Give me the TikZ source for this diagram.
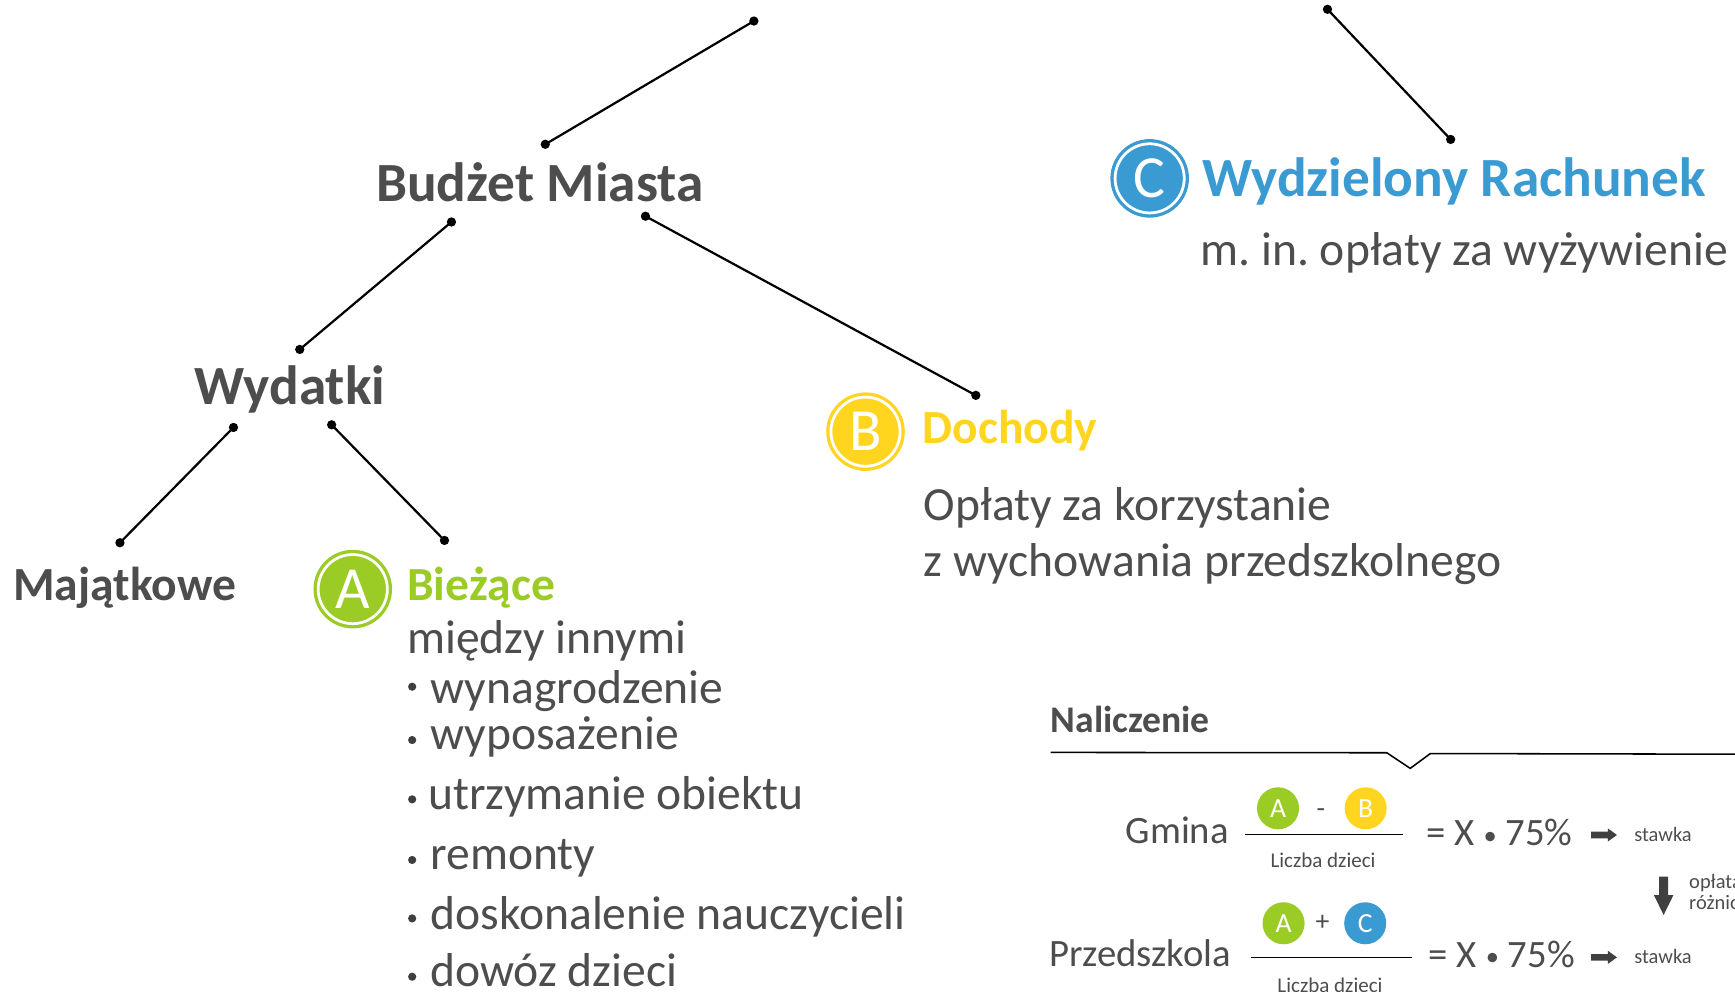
\documentclass[tikz,border=0pt]{standalone}
\usepackage{fontspec}
\setmainfont{Carlito}
\usetikzlibrary{arrows.meta}
\definecolor{txtgray}{HTML}{4D4D4D}
\definecolor{cgreen}{HTML}{9BCB25}
\definecolor{cyellow}{HTML}{FFD51F}
\definecolor{cblue}{HTML}{3A9AD2}
\definecolor{arrgray}{HTML}{404040}
\newcommand\fsHuge{\fontsize{50}{60}\selectfont}
\newcommand\fsLarge{\fontsize{43}{52}\selectfont}
\newcommand\fsMid{\fontsize{35}{42}\selectfont}
\newcommand\fsHead{\fontsize{34}{41}\selectfont}
\newcommand\fsSmall{\fontsize{19}{23}\selectfont}
\newcommand\fsTiny{\fontsize{18.5}{22}\selectfont}
\newcommand\fsBadge{\fontsize{54}{60}\selectfont}
\newcommand\fsMini{\fontsize{25}{30}\selectfont}
\newcommand\smalldot{\raisebox{1.5pt}{\fontsize{24}{24}\selectfont\textbullet}}
\frenchspacing
\begin{document}
\begin{tikzpicture}[x=1pt,y=-1pt,
  txt/.style={anchor=base west,inner sep=0pt,outer sep=0pt,text=txtgray},
  conn/.style={draw=black,line width=2pt},
  dotmark/.style={fill=black},
  badge/.style={circle,inner sep=0pt,minimum size=62.5pt,fill=#1,draw=#1,
    double=white,double distance=2.5pt,line width=3pt,text=white,font=\fsBadge},
  minibadge/.style={circle,inner sep=0pt,minimum size=38pt,fill=#1,text=white,font=\fsMini},
  fracline/.style={draw=black,line width=1.4pt},
  fatarrow/.style={fill=arrgray},
  bul/.style={fill=txtgray!80!black}]
\path[use as bounding box] (0,0) rectangle (1568,896);
\clip (0,0) rectangle (1568,896);

% ---- tree text ----
\node[txt,font=\bfseries\fsHuge] (budzet) at (340,182.3) {Budżet Miasta};
\node[txt,font=\bfseries\fsHuge] (wydatki) at (175.8,365.6) {Wydatki};
\node[txt,font=\bfseries\fsLarge] (majatkowe) at (12,543) {Majątkowe};
\node[badge=cgreen] (bA) at (318.8,532.4) {A};
\node[txt,font=\bfseries\fsLarge,text=cgreen] (biezace) at (368,543) {Bieżące};
\node[txt,font=\fsLarge] (miedzy) at (368,590.4) {między innymi};
\node[txt,font=\fsLarge] (i1) at (389,635.6) {wynagrodzenie};
\node[txt,font=\fsLarge] (i2) at (389,677.8) {wyposażenie};
\node[txt,font=\fsLarge] (i3) at (387,731.4) {utrzymanie obiektu};
\node[txt,font=\fsLarge] (i4) at (389,786) {remonty};
\node[txt,font=\fsLarge] (i5) at (389,839.9) {doskonalenie nauczycieli};
\node[txt,font=\fsLarge] (i6) at (389,891.7) {dowóz dzieci};
\foreach \yy in {620.6,668.8,722.4,777.2,830,882.7}
  \fill[bul] (372.5,\yy) circle (3.7pt);

\node[badge=cyellow] (bB) at (782.2,390.1) {B};
\node[txt,font=\bfseries\fsLarge,text=cyellow] (dochody) at (834,400.7) {Dochody};
\node[txt,font=\fsLarge] (oplaty1) at (835,470) {Opłaty za korzystanie};
\node[txt,font=\fsLarge] (oplaty2) at (835,521.2) {z wychowania przedszkolnego};

\node[badge=cblue] (bC) at (1039,161.2) {C};
\node[txt,font=\bfseries\fsHuge,text=cblue] (wydz) at (1086.5,177.7) {Wydzielony Rachunek};
\node[txt,font=\fsLarge] (minn) at (1085,239.5) {m. in. opłaty za wyżywienie};

% ---- connectors ----
\coordinate (t1) at (681.3,19.0);
\coordinate (t2) at (492.8,130.4);
\coordinate (b1) at (408,200.6);
\coordinate (w1) at (270.9,315.8);
\coordinate (b2) at (583.3,195.4);
\coordinate (d1) at (881.9,357.3);
\coordinate (t3) at (1199.7,8.4);
\coordinate (c1) at (1311,126);
\coordinate (w2) at (211,386.3);
\coordinate (m1) at (108.4,490.5);
\coordinate (w3) at (299.7,383.9);
\coordinate (a1) at (401.7,488.4);
\foreach \p/\q in {t1/t2,b1/w1,b2/d1,t3/c1,w2/m1,w3/a1}{
  \draw[conn] (\p) -- (\q);
  \fill[dotmark] (\p) circle (4.2pt);
  \fill[dotmark] (\q) circle (4.2pt);
}

% ---- Naliczenie ----
\node[txt,font=\bfseries\fsHead] (nalicz) at (949.5,662.2) {Naliczenie};
\coordinate (nl0) at (949.5,680);
\coordinate (nl1) at (1253.3,680.3);
\coordinate (nl2) at (1274.5,694.4);
\coordinate (nl3) at (1292.7,681);
\coordinate (nl4) at (1570,681.6);
\draw[line width=1.4pt] (nl0) -- (nl1) -- (nl2) -- (nl3) -- (nl4);

% Gmina
\node[txt,font=\fsMid] (gmina) at (1017.3,762.2) {Gmina};
\coordinate (f1a) at (1124.9,754);
\coordinate (f1b) at (1268.2,754);
\draw[fracline] (f1a) -- (f1b);
\node[minibadge=cgreen] (gA) at (1155,730.5) {A};
\node[text=txtgray,font=\fsMini,inner sep=0pt] (gminus) at (1193.6,734.5) {-};
\node[minibadge=cyellow] (gB) at (1234.2,730.5) {B};
\node[txt,font=\fsSmall] (gl) at (1148.2,784.2) {Liczba dzieci};
\node[txt,font=\fsMid] (geq) at (1289.3,764.3) {= X \smalldot\ 75\%};
\fill[fatarrow] (1438,751.6) -- (1453,751.6) -- (1453,748.6) -- (1461.3,754.6)
  -- (1453,760.6) -- (1453,757.6) -- (1438,757.6) -- cycle;
\node[txt,font=\fsTiny] (gst) at (1477,760.7) {stawka};

% down arrow
\fill[fatarrow] (1499.5,792.3) -- (1507.5,792.3) -- (1507.5,809) -- (1512.3,809)
  -- (1503.5,826.9) -- (1494.7,809) -- (1499.5,809) -- cycle;
\node[txt,font=\fsTiny] (op1) at (1526.6,802.8) {opłata};
\node[txt,font=\fsTiny] (op2) at (1526.6,822.4) {różnica};

% Przedszkola
\node[txt,font=\fsMid] (przed) at (948.2,873.6) {Przedszkola};
\coordinate (f2a) at (1130.4,865.2);
\coordinate (f2b) at (1275.7,865.2);
\draw[fracline] (f2a) -- (f2b);
\node[minibadge=cgreen] (pA) at (1160,834.4) {A};
\node[text=txtgray,font=\fsMini,inner sep=0pt] (pplus) at (1195.2,834.4) {+};
\node[minibadge=cblue] (pC) at (1233.8,834.4) {C};
\node[txt,font=\fsSmall] (pl) at (1154.5,896.6) {Liczba dzieci};
\node[txt,font=\fsMid] (peq) at (1291.4,874.2) {= X \smalldot\ 75\%};
\fill[fatarrow] (1438,862.2) -- (1453,862.2) -- (1453,859.2) -- (1461.3,865.2)
  -- (1453,871.2) -- (1453,868.2) -- (1438,868.2) -- cycle;
\node[txt,font=\fsTiny] (pst) at (1477,871.2) {stawka};
\end{tikzpicture}
\end{document}
